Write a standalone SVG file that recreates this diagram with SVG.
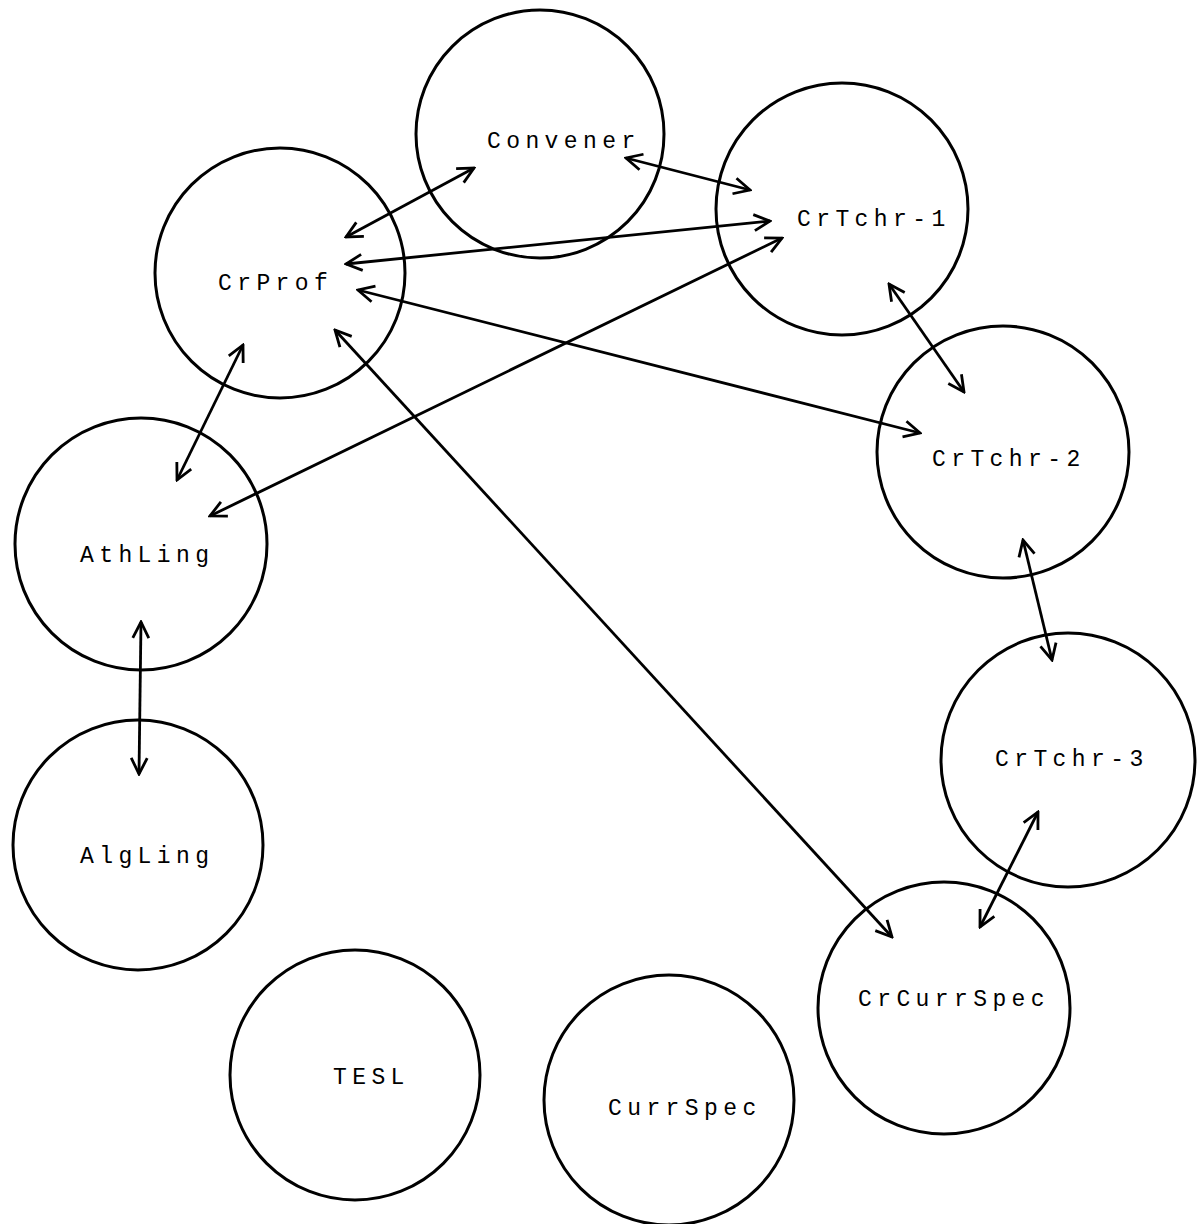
<svg xmlns="http://www.w3.org/2000/svg" width="1197" height="1224" viewBox="0 0 1197 1224">
<style>
.node circle{fill:none;stroke:#000;stroke-width:3}
.node text{font-family:"Liberation Mono","DejaVu Sans Mono",monospace;font-size:23px;letter-spacing:5.4px;fill:#000}
.conn line{stroke:#000;stroke-width:2.8;fill:none;marker-start:url(#ah);marker-end:url(#ah)}
</style>
<defs>
<marker id="ah" viewBox="0 0 20 20" refX="18" refY="10" markerWidth="20" markerHeight="20" markerUnits="userSpaceOnUse" orient="auto-start-reverse">
<path d="M2,2 L18,10 L2,18" fill="none" stroke="#000" stroke-width="2.8"/>
</marker>
</defs>
<rect width="1197" height="1224" fill="#fff"/>
<g id="Convener" class="node"><circle cx="540" cy="134" r="124"/><text x="487" y="148">Convener</text></g>
<g id="CrTchr-1" class="node"><circle cx="842" cy="209" r="126"/><text x="797" y="226">CrTchr-1</text></g>
<g id="CrProf" class="node"><circle cx="280" cy="273" r="125"/><text x="218" y="290">CrProf</text></g>
<g id="CrTchr-2" class="node"><circle cx="1003" cy="452" r="126"/><text x="932" y="466">CrTchr-2</text></g>
<g id="AthLing" class="node"><circle cx="141" cy="544" r="126"/><text x="80" y="562">AthLing</text></g>
<g id="CrTchr-3" class="node"><circle cx="1068" cy="760" r="127"/><text x="995" y="766">CrTchr-3</text></g>
<g id="AlgLing" class="node"><circle cx="138" cy="845" r="125"/><text x="80" y="863">AlgLing</text></g>
<g id="CrCurrSpec" class="node"><circle cx="944" cy="1008" r="126"/><text x="858" y="1006">CrCurrSpec</text></g>
<g id="TESL" class="node"><circle cx="355" cy="1075" r="125"/><text x="333" y="1084">TESL</text></g>
<g id="CurrSpec" class="node"><circle cx="669" cy="1100" r="125"/><text x="608" y="1115">CurrSpec</text></g>
<g id="connectors" class="conn">
<line x1="346" y1="237" x2="474" y2="168"/>
<line x1="626" y1="158" x2="750" y2="190"/>
<line x1="770" y1="221" x2="346" y2="264"/>
<line x1="782" y1="238" x2="210" y2="516"/>
<line x1="358" y1="290" x2="920" y2="433"/>
<line x1="335" y1="330" x2="892" y2="937"/>
<line x1="243" y1="345" x2="177" y2="480"/>
<line x1="889" y1="284" x2="964" y2="392"/>
<line x1="1023" y1="540" x2="1052" y2="660"/>
<line x1="1038" y1="812" x2="980" y2="927"/>
<line x1="141" y1="622" x2="139" y2="774"/>
</g>
</svg>
